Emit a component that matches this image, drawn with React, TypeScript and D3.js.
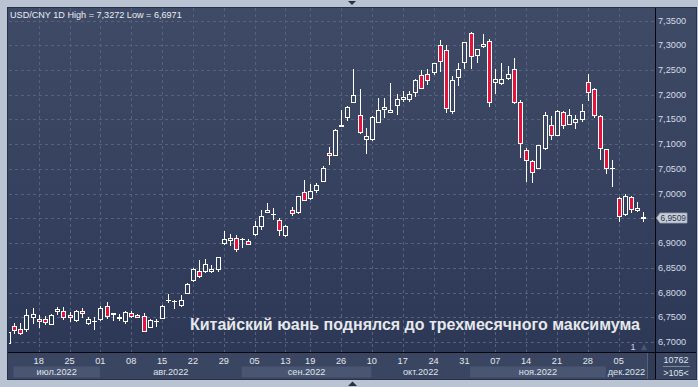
import React from 'react';
import * as d3 from 'd3';

const dates = [
  '2022-07-11','2022-07-12','2022-07-13','2022-07-14','2022-07-15',
  '2022-07-18','2022-07-19','2022-07-20','2022-07-21','2022-07-22',
  '2022-07-25','2022-07-26','2022-07-27','2022-07-28','2022-07-29',
  '2022-08-01','2022-08-02','2022-08-03','2022-08-04','2022-08-05',
  '2022-08-08','2022-08-09','2022-08-10','2022-08-11','2022-08-12',
  '2022-08-15','2022-08-16','2022-08-17','2022-08-18','2022-08-19',
  '2022-08-22','2022-08-23','2022-08-24','2022-08-25','2022-08-26',
  '2022-08-29','2022-08-30','2022-08-31',
  '2022-09-01','2022-09-02',
  '2022-09-05','2022-09-06','2022-09-07','2022-09-08','2022-09-09',
  '2022-09-13','2022-09-14','2022-09-15','2022-09-16',
  '2022-09-19','2022-09-20','2022-09-21','2022-09-22','2022-09-23',
  '2022-09-26','2022-09-27','2022-09-28','2022-09-29','2022-09-30',
  '2022-10-10','2022-10-11','2022-10-12','2022-10-13','2022-10-14',
  '2022-10-17','2022-10-18','2022-10-19','2022-10-20','2022-10-21',
  '2022-10-24','2022-10-25','2022-10-26','2022-10-27','2022-10-28',
  '2022-10-31',
  '2022-11-01','2022-11-02','2022-11-03','2022-11-04',
  '2022-11-07','2022-11-08','2022-11-09','2022-11-10','2022-11-11',
  '2022-11-14','2022-11-15','2022-11-16','2022-11-17','2022-11-18',
  '2022-11-21','2022-11-22','2022-11-23','2022-11-24','2022-11-25',
  '2022-11-28','2022-11-29','2022-11-30',
  '2022-12-01','2022-12-02',
  '2022-12-05','2022-12-06','2022-12-07','2022-12-08','2022-12-09',
];

const open = [
  6.6976, 6.7328, 6.7267, 6.7267, 6.7510, 6.7462, 6.7462, 6.7375, 6.7624, 6.7632,
  6.7557, 6.7449, 6.7624, 6.7395, 6.7421, 6.7470, 6.7725, 6.7571, 6.7482, 6.7421,
  6.7583, 6.7557, 6.7530, 6.7314, 6.7435, 6.7490, 6.7860, 6.7834, 6.7753, 6.8002,
  6.8265, 6.8437, 6.8437, 6.8433, 6.8478, 6.9000, 6.9061, 6.9109, 6.9081, 6.9049,
  6.9182, 6.9344, 6.9628, 6.9587, 6.9474, 6.9162, 6.9676, 6.9636, 7.0041, 6.9911,
  7.0081, 7.0263, 7.0830, 7.0790, 7.1377, 7.1551, 7.1854, 7.1599, 7.1113, 7.1105,
  7.1449, 7.1713, 7.1660, 7.1802, 7.1909, 7.1915, 7.2051, 7.2389, 7.2415, 7.2462,
  7.3002, 7.2895, 7.1672, 7.2360, 7.2664, 7.3239, 7.2794, 7.2988, 7.3077, 7.2267,
  7.2243, 7.2348, 7.2530, 7.1858, 7.0877, 7.0668, 7.0526, 7.0931, 7.1397, 7.1194,
  7.1652, 7.1417, 7.1449, 7.1518, 7.2259, 7.2126, 7.1579, 7.0911, 7.0518, 6.9905,
  6.9587, 6.9925, 6.9668, 6.9526,
];

const high = [
  6.7213, 6.7381, 6.7395, 6.7664, 6.7698, 6.7551, 6.7537, 6.7571, 6.7719, 6.7705,
  6.7603, 6.7658, 6.7684, 6.7502, 6.7516, 6.7739, 6.7814, 6.7587, 6.7571, 6.7624,
  6.7638, 6.7571, 6.7591, 6.7470, 6.7462, 6.7745, 6.7976, 6.7850, 6.7956, 6.8190,
  6.8502, 6.8670, 6.8684, 6.8559, 6.8731, 6.9237, 6.9190, 6.9156, 6.9101, 6.9089,
  6.9439, 6.9662, 6.9810, 6.9709, 6.9514, 6.9358, 6.9733, 6.9960, 7.0269, 7.0203,
  7.0223, 7.0553, 7.0947, 7.1302, 7.1686, 7.1767, 7.2510, 7.2126, 7.1336, 7.1571,
  7.1943, 7.1943, 7.2233, 7.2010, 7.2071, 7.2077, 7.2308, 7.2496, 7.2510, 7.2644,
  7.3103, 7.3008, 7.2375, 7.2638, 7.3057, 7.3272, 7.2915, 7.3225, 7.3118, 7.2512,
  7.2638, 7.2577, 7.2733, 7.1889, 7.0917, 7.0688, 7.0992, 7.1646, 7.1565, 7.1700,
  7.1666, 7.1721, 7.1585, 7.1808, 7.2415, 7.2138, 7.1599, 7.0911, 7.0674, 6.9931,
  7.0000, 6.9960, 6.9824, 6.9622,
];

const low = [
  6.6971, 6.7178, 6.7166, 6.7233, 6.7389, 6.7314, 6.7368, 6.7368, 6.7571, 6.7470,
  6.7435, 6.7435, 6.7502, 6.7368, 6.7267, 6.7449, 6.7490, 6.7449, 6.7449, 6.7395,
  6.7502, 6.7502, 6.7219, 6.7300, 6.7334, 6.7486, 6.7806, 6.7692, 6.7739, 6.7988,
  6.8245, 6.8316, 6.8417, 6.8413, 6.8448, 6.8988, 6.8974, 6.8852, 6.8919, 6.8980,
  6.9176, 6.9283, 6.9622, 6.9480, 6.9156, 6.9150, 6.9571, 6.9607, 6.9865, 6.9899,
  7.0037, 7.0255, 7.0607, 7.0775, 7.1373, 7.1484, 7.1854, 7.1227, 7.0822, 7.1079,
  7.1449, 7.1551, 7.1646, 7.1605, 7.1883, 7.1875, 7.1984, 7.2132, 7.2207, 7.2429,
  7.2482, 7.1652, 7.1640, 7.2192, 7.2543, 7.2543, 7.2664, 7.2968, 7.1781, 7.2040,
  7.2219, 7.2328, 7.1834, 7.0741, 7.0255, 7.0235, 7.0526, 7.0911, 7.1099, 7.1180,
  7.1328, 7.1403, 7.1328, 7.1464, 7.1903, 7.1551, 7.0709, 7.0425, 7.0154, 6.9453,
  6.9567, 6.9628, 6.9648, 6.9445,
];

const close = [
  6.7198, 6.7247, 6.7186, 6.7551, 6.7577, 6.7429, 6.7415, 6.7557, 6.7672, 6.7510,
  6.7516, 6.7638, 6.7583, 6.7462, 6.7423, 6.7692, 6.7530, 6.7583, 6.7502, 6.7611,
  6.7522, 6.7516, 6.7233, 6.7449, 6.7437, 6.7733, 6.7862, 6.7836, 6.7854, 6.8178,
  6.8488, 6.8336, 6.8583, 6.8488, 6.8725, 6.9089, 6.9115, 6.8879, 6.9083, 6.8988,
  6.9338, 6.9541, 6.9676, 6.9589, 6.9271, 6.9352, 6.9611, 6.9945, 6.9879, 7.0047,
  7.0182, 7.0512, 7.0790, 7.1296, 7.1383, 7.1753, 7.2004, 7.1241, 7.1160, 7.1559,
  7.1686, 7.1761, 7.1700, 7.1923, 7.1964, 7.2024, 7.2288, 7.2146, 7.2300, 7.2632,
  7.2684, 7.1733, 7.2294, 7.2530, 7.3057, 7.2779, 7.2915, 7.3016, 7.1858, 7.2308,
  7.2308, 7.2409, 7.1858, 7.1032, 7.0684, 7.0445, 7.0992, 7.1585, 7.1194, 7.1666,
  7.1397, 7.1599, 7.1518, 7.1666, 7.2065, 7.1599, 7.0931, 7.0526, 7.0520, 6.9555,
  6.9960, 6.9696, 6.9702, 6.9509,
];

const yTicks = [6.70, 6.75, 6.80, 6.85, 6.90, 6.95, 7.00, 7.05, 7.10, 7.15, 7.20, 7.25, 7.30, 7.35];
const weekDates = ['2022-07-18','2022-07-25','2022-08-01','2022-08-08','2022-08-15','2022-08-22','2022-08-29','2022-09-05','2022-09-13','2022-09-19','2022-09-26','2022-10-10','2022-10-17','2022-10-24','2022-10-31','2022-11-07','2022-11-14','2022-11-21','2022-11-28','2022-12-05'];
const weekLabels = ['18','25','01','08','15','22','29','05','13','19','26','10','17','24','31','07','14','21','28','05'];
const monthStarts = ['2022-07-12','2022-08-01','2022-09-01','2022-10-10','2022-11-01','2022-12-01'];
const monthLabels = ['июл.2022','авг.2022','сен.2022','окт.2022','ноя.2022','дек.2022'];

const symbol = 'USD/CNY';
const period = '1D';
const lastPrice = 6.9509;
const caption = 'Китайский юань поднялся до трехмесячного максимума';

const FONT = '"Liberation Sans", Arial, sans-serif';

export default function App() {
  const W = 698, H = 387;
  const plotL = 9, plotR = 655.5, plotT = 8, plotB = 352;
  const axisEnd = 647;

  const x = d3.scalePoint<string>().domain(dates).range([7.83, 643.34]);
  const y = d3.scaleLinear().domain([6.7, 7.35]).range([342.2, 20.5]);
  const fmt = (v: number) => d3.format('.4f')(v).replace('.', ',');

  const hi = d3.max(high) as number;
  const lo = d3.min(low) as number;
  const lastY = y(lastPrice);

  return (
    <div style={{ position: 'fixed', left: 0, top: 0, width: W, height: H }}>
      <svg width={W} height={H} style={{ display: 'block' }} fontFamily={FONT}>
        <defs>
          <linearGradient id="bg" gradientUnits="userSpaceOnUse" x1="0" y1="8" x2="0" y2="352">
            <stop offset="0" stopColor="#3f4b66" />
            <stop offset="1" stopColor="#2c3856" />
          </linearGradient>
          <clipPath id="plotClip">
            <rect x={plotL} y={plotT} width={plotR - plotL} height={plotB - plotT} />
          </clipPath>
          <clipPath id="axisClip">
            <rect x={plotL} y={plotB} width={axisEnd - plotL} height={28} />
          </clipPath>
        </defs>

        {/* outer frame */}
        <rect x={0} y={0} width={W} height={H} fill="#b9c3d2" />
        <rect x={8} y={8} width={688} height={371} fill="url(#bg)" />
        {/* bottom axis area */}
        <rect x={8} y={plotB} width={688} height={27} fill="#3a4661" />

        {/* grid */}
        <g stroke="#56627d" strokeWidth={1} strokeDasharray="3,3">
          {yTicks.map(t => (
            <line key={'h' + t} x1={plotL} x2={plotR} y1={Math.round(y(t)) + 0.5} y2={Math.round(y(t)) + 0.5} />
          ))}
          {weekDates.map(d => (
            <line key={'v' + d} x1={Math.round(x(d)!) + 0.5} x2={Math.round(x(d)!) + 0.5} y1={plotT} y2={plotB} />
          ))}
        </g>

        {/* header */}
        <text x={10} y={18.3} fontSize={9.1} fill="#e9edf3">
          {`${symbol} ${period} High = ${fmt(hi)} Low = ${fmt(lo)}`}
        </text>

        {/* candles */}
        <g clipPath="url(#plotClip)">
          {dates.map((d, i) => {
            const R = Math.round(x(d)!);
            const o = open[i], c = close[i];
            const up = c >= o;
            const yt = Math.round(y(Math.max(o, c))) + 0.5;
            const yb = Math.round(y(Math.min(o, c))) + 0.5;
            const yh = Math.round(y(high[i]));
            const yl = Math.round(y(low[i])) + 1;
            return (
              <g key={d}>
                <line x1={R + 0.5} x2={R + 0.5} y1={yh} y2={yl} stroke="#ffffff" strokeWidth={1} />
                {yb - yt < 1 ? (
                  <line x1={R - 2} x2={R + 3} y1={yt} y2={yt} stroke="#ffffff" strokeWidth={1} />
                ) : (
                  <rect x={R - 1.5} y={yt} width={4} height={yb - yt}
                    fill={up ? 'url(#bg)' : '#e3143c'} stroke="#ffffff" strokeWidth={1} />
                )}
              </g>
            );
          })}
        </g>

        {/* caption */}
        <text x={190} y={330} fontSize={16} fontWeight="bold" fill="#e6e8ec" textLength={450} lengthAdjust="spacing">
          {caption}
        </text>

        {/* "1" marker */}
        <text x={633} y={350} fontSize={9} fill="#cfd5df" textAnchor="middle">1</text>
        <path d="M641,350 L644,344 L647,350 Z" fill="#4a5570" />

        {/* right axis labels */}
        <g fontSize={9.2} fill="#d5dbe6">
          {yTicks.filter(t => Math.abs(y(t) - lastY) > 8).map(t => (
            <text key={'yl' + t} x={658} y={y(t)} dominantBaseline="central">{fmt(t)}</text>
          ))}
        </g>

        {/* last price marker */}
        <path d={`M656.5,${lastY} L660,${lastY - 5} H687 V${lastY + 5} H660 Z`} fill="#c8cdd7" stroke="#98a0b0" strokeWidth={0.8} />
        <text x={660.5} y={lastY} dominantBaseline="central" fontSize={9} fill="#2b3550" textLength={25.5} lengthAdjust="spacingAndGlyphs">{fmt(lastPrice)}</text>

        {/* month bands & labels */}
        <g clipPath="url(#axisClip)">
          {monthStarts.map((m, i) => {
            const x0 = x(m)! - 0.5;
            const x1 = i < monthStarts.length - 1 ? x(monthStarts[i + 1])! - 0.5 : axisEnd;
            return (
              <g key={m}>
                {i % 2 === 0 && <rect x={x0} y={366.5} width={x1 - x0} height={11} fill="#4a5571" />}
                <text x={(x0 + x1) / 2} y={372} textAnchor="middle" dominantBaseline="central" fontSize={9.2} fill="#dfe4ec">
                  {monthLabels[i]}
                </text>
              </g>
            );
          })}
        </g>
        {/* scrollbar stub */}
        <rect x={647} y={353} width={8} height={26} fill="#313c56" />
        <line x1={647.5} x2={647.5} y1={353} y2={379} stroke="#55607a" />

        {/* week labels */}
        <g fontSize={9.2} fill="#e2e6ee">
          {weekDates.map((d, i) => (
            <text key={'wl' + d} x={x(d)!} y={361} textAnchor="middle" dominantBaseline="central">{weekLabels[i]}</text>
          ))}
        </g>

        {/* bottom-right box */}
        <text x={676} y={359.5} textAnchor="middle" dominantBaseline="central" fontSize={9} fill="#dfe4ec">10762</text>
        <line x1={663} x2={690} y1={366.5} y2={366.5} stroke="#7c869a" />
        <text x={676} y={373} textAnchor="middle" dominantBaseline="central" fontSize={9} fill="#dfe4ec">{'>105<'}</text>

        {/* separators */}
        <line x1={655.5} x2={655.5} y1={8} y2={379} stroke="#05070c" strokeWidth={1} />
        <line x1={8} x2={696} y1={352.5} y2={352.5} stroke="#05070c" strokeWidth={1} />
        <rect x={7.5} y={7.5} width={689} height={372} fill="none" stroke="#25304a" strokeWidth={1} />

        {/* scroll arrows */}
        <path d="M348,1 L356,1 L352,5 Z" fill="#27304a" />
        <path d="M348,386 L357,386 L352.5,381.5 Z" fill="#27304a" />
      </svg>
    </div>
  );
}
